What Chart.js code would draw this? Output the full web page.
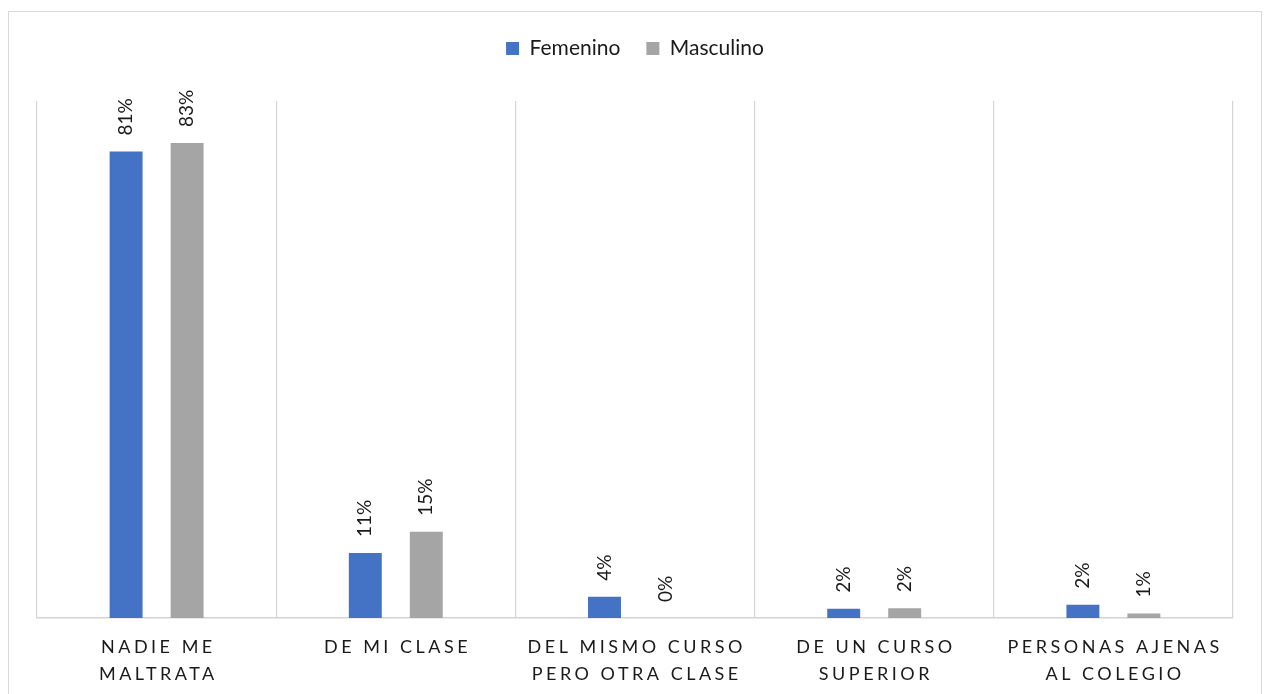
<!DOCTYPE html>
<html>
<head>
<meta charset="utf-8">
<script src="https://cdn.jsdelivr.net/npm/chart.js@4/dist/chart.umd.min.js"></script>
<style>
    html, body { margin: 0; padding: 0; background: #fff; overflow: hidden; }
    #frame {
        position: absolute;
        left: 8px;
        top: 11px;
        width: 1252px;
        height: 690px;
        border: 1px solid #d9d9d9;
        background: #fff;
    }
    #chart { display: block; }
</style>
</head>
<body>
<div id="frame">
    <canvas id="chart" width="1252" height="682"></canvas>
</div>
<script>
// data (percent)
const categories = [
    ['NADIE ME', 'MALTRATA'],
    ['DE MI CLASE'],
    ['DEL MISMO CURSO', 'PERO OTRA CLASE'],
    ['DE UN CURSO', 'SUPERIOR'],
    ['PERSONAS AJENAS', 'AL COLEGIO']
];
const femenino = [81.2, 11.3, 3.7, 1.6, 2.3];
const masculino = [82.7, 15.0, 0, 1.7, 0.8];
const seriesNames = ['Femenino', 'Masculino'];

const textColor = '#1a1a1a';
const gridColor = '#d4d4d4';

// extra room between the legend and the plot
const legendMargin = {
    id: 'legendMargin',
    beforeInit(chart) {
        const fitValue = chart.legend.fit;
        chart.legend.fit = function fit() {
            fitValue.bind(chart.legend)();
            this.height += 32;
        };
    }
};

// rotated value labels above each bar
const valueLabels = {
    id: 'valueLabels',
    afterDatasetsDraw(chart) {
        const ctx = chart.ctx;
        ctx.save();
        ctx.font = '19px Lato';
        ctx.fillStyle = textColor;
        ctx.textAlign = 'left';
        ctx.textBaseline = 'middle';
        chart.data.datasets.forEach((ds, di) => {
            const meta = chart.getDatasetMeta(di);
            meta.data.forEach((bar, i) => {
                ctx.save();
                ctx.translate(bar.x, bar.y - 16);
                ctx.rotate(-Math.PI / 2);
                ctx.fillText(Math.round(ds.data[i]) + '%', 0, 0);
                ctx.restore();
            });
        });
        ctx.restore();
    }
};

// category labels, spaced out like the original
const categoryLabels = {
    id: 'categoryLabels',
    afterDraw(chart) {
        const ctx = chart.ctx;
        const xScale = chart.scales.x;
        const base = chart.chartArea.bottom;
        ctx.save();
        ctx.font = '18px Lato';
        ctx.fillStyle = textColor;
        ctx.textAlign = 'center';
        ctx.textBaseline = 'middle';
        ctx.letterSpacing = '3.5px';
        categories.forEach((lines, i) => {
            const x = xScale.getPixelForValue(i) + 1.75;
            lines.forEach((line, j) => {
                ctx.fillText(line, x, base + 29 + j * 27);
            });
        });
        ctx.restore();
    }
};

new Chart(document.getElementById('chart'), {
    type: 'bar',
    data: {
        labels: categories.map(c => c.join(' ')),
        datasets: [
            {
                label: seriesNames[0],
                data: femenino,
                backgroundColor: '#4472C4'
            },
            {
                label: seriesNames[1],
                data: masculino,
                backgroundColor: '#A5A5A5'
            }
        ]
    },
    options: {
        responsive: false,
        animation: false,
        categoryPercentage: 0.51,
        barPercentage: 0.54,
        layout: {
            padding: { left: 28, right: 28, top: 0, bottom: 76 }
        },
        plugins: {
            tooltip: { enabled: false },
            legend: {
                position: 'top',
                labels: {
                    font: { family: 'Lato', size: 21 },
                    color: textColor,
                    boxWidth: 13,
                    boxHeight: 13,
                    padding: 26
                }
            }
        },
        scales: {
            x: {
                grid: {
                    offset: true,
                    color: gridColor,
                    lineWidth: 1.2,
                    drawTicks: false
                },
                border: { display: true, color: gridColor, width: 1.5 },
                ticks: { display: false }
            },
            y: {
                display: false,
                min: 0,
                max: 90
            }
        }
    },
    plugins: [legendMargin, valueLabels, categoryLabels]
});
</script>
</body>
</html>
